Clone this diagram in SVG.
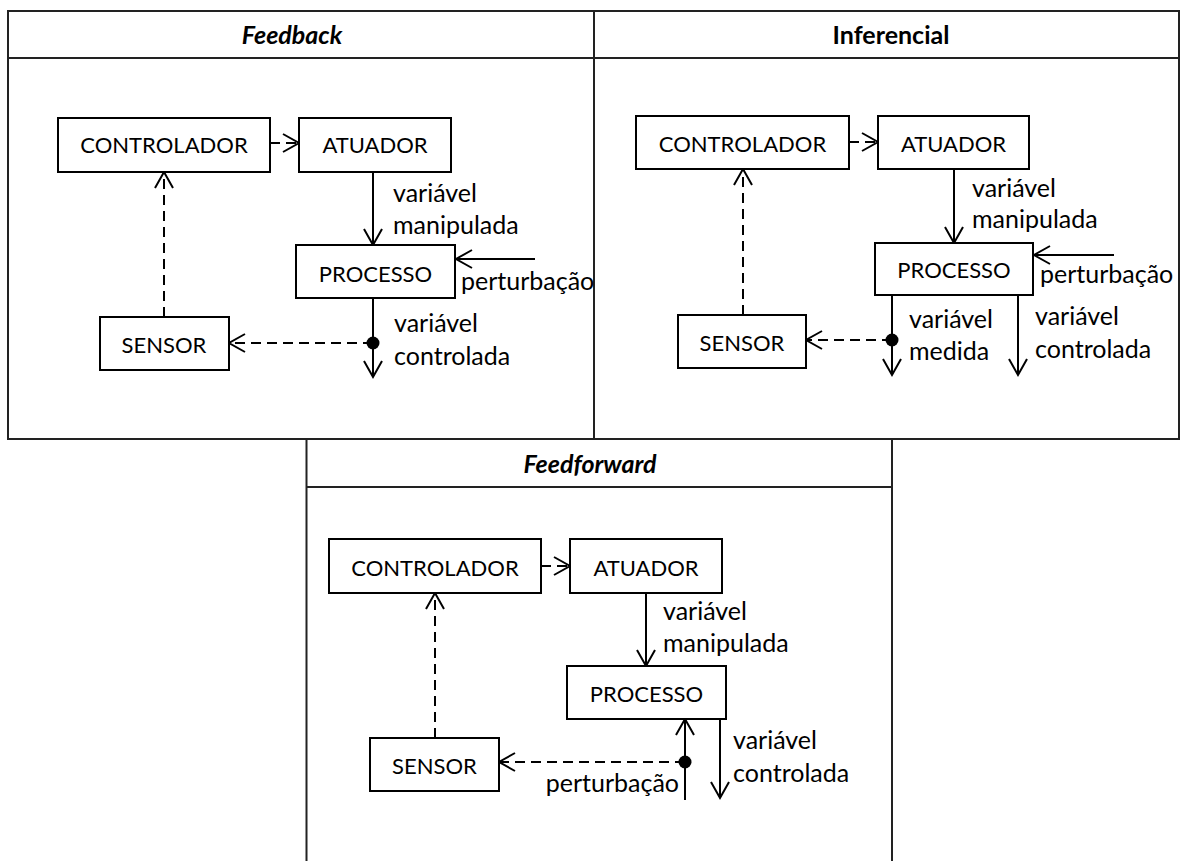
<svg xmlns="http://www.w3.org/2000/svg" width="1181" height="861" viewBox="0 0 1181 861">
<style>
.frame{stroke:#222;stroke-width:2;fill:none}
.box{fill:#fff;stroke:#000;stroke-width:2}
.t{font-family:Lato,"Open Sans","Liberation Sans",sans-serif;font-size:22px;fill:#000}
.lb{font-size:25px}
.c{text-anchor:middle}
.title{font-family:Lato,"Open Sans","Liberation Sans",sans-serif;font-size:25px;font-weight:bold;text-anchor:middle;fill:#000}
.it{font-style:italic}
.ln{stroke:#000;stroke-width:2;fill:none;marker-end:url(#ah)}
.dash{stroke-dasharray:10 6}
.dot{fill:#000}
</style>
<defs>
<marker id="ah" viewBox="-20 -12 24 24" refX="0" refY="0" markerWidth="24" markerHeight="24" markerUnits="userSpaceOnUse" orient="auto">
<path d="M-16,-9 L0,0 L-16,9" fill="none" stroke="#000" stroke-width="2"/>
</marker>
</defs>
<rect width="1181" height="861" fill="#fff"/>
<g id="frames">
<path class="frame" d="M8,11 H1179 V439 H8 Z M8,58 H1179 M594,11 V439 M306.5,439 V861 M892,439 V861 M306.5,487 H892"/>
<text class="title it" x="292" y="44">Feedback</text>
<text class="title" x="891" y="44">Inferencial</text>
<text class="title it" x="590" y="473">Feedforward</text>
</g>
<g id="connectors">
<line class="ln dash" x1="270" y1="143" x2="299" y2="143"/>
<line class="ln" x1="373" y1="172" x2="373" y2="245"/>
<line class="ln" x1="535" y1="259" x2="456" y2="259"/>
<line class="ln" x1="373" y1="298" x2="373" y2="377"/>
<circle class="dot" cx="373" cy="343" r="6.5"/>
<line class="ln dash" x1="373" y1="343" x2="229" y2="343"/>
<line class="ln dash" x1="164" y1="317" x2="164" y2="172"/>

<line class="ln dash" x1="849" y1="142" x2="878" y2="142"/>
<line class="ln" x1="954" y1="169" x2="954" y2="243"/>
<line class="ln" x1="1114" y1="255" x2="1034" y2="255"/>
<line class="ln" x1="892" y1="295" x2="892" y2="375"/>
<circle class="dot" cx="892" cy="340" r="6.5"/>
<line class="ln dash" x1="892" y1="340" x2="806" y2="340"/>
<line class="ln" x1="1018" y1="295" x2="1018" y2="375"/>
<line class="ln dash" x1="743" y1="315" x2="743" y2="169"/>

<line class="ln dash" x1="541" y1="566" x2="570" y2="566"/>
<line class="ln" x1="646" y1="593" x2="646" y2="666"/>
<line class="ln" x1="685" y1="800" x2="685" y2="719"/>
<circle class="dot" cx="685" cy="762" r="6.5"/>
<line class="ln dash" x1="685" y1="762" x2="499" y2="762"/>
<line class="ln" x1="720" y1="719" x2="720" y2="798"/>
<line class="ln dash" x1="435" y1="738" x2="435" y2="593"/>
</g>
<g id="labels">
<text class="t lb" x="393" y="202">variável</text>
<text class="t lb" x="393" y="234">manipulada</text>
<text class="t lb" x="461" y="290">perturbação</text>
<text class="t lb" x="394" y="332">variável</text>
<text class="t lb" x="394" y="365">controlada</text>

<text class="t lb" x="972" y="197">variável</text>
<text class="t lb" x="972" y="228">manipulada</text>
<text class="t lb" x="1040" y="283">perturbação</text>
<text class="t lb" x="909" y="328">variável</text>
<text class="t lb" x="909" y="360">medida</text>
<text class="t lb" x="1035" y="325">variável</text>
<text class="t lb" x="1035" y="358">controlada</text>

<text class="t lb" x="663" y="620">variável</text>
<text class="t lb" x="663" y="652">manipulada</text>
<text class="t lb" x="679" y="792" text-anchor="end">perturbação</text>
<text class="t lb" x="733" y="749">variável</text>
<text class="t lb" x="733" y="782">controlada</text>
</g>
<g id="fb-controlador"><rect class="box" x="58" y="118" width="212" height="54"/><text class="t c" x="164" y="153">CONTROLADOR</text></g>
<g id="fb-atuador"><rect class="box" x="299" y="118" width="152" height="54"/><text class="t c" x="375" y="153">ATUADOR</text></g>
<g id="fb-processo"><rect class="box" x="296" y="245" width="159" height="53"/><text class="t c" x="375.5" y="282">PROCESSO</text></g>
<g id="fb-sensor"><rect class="box" x="100" y="317" width="129" height="53"/><text class="t c" x="164" y="353">SENSOR</text></g>

<g id="inf-controlador"><rect class="box" x="636" y="116" width="213" height="53"/><text class="t c" x="742.5" y="152">CONTROLADOR</text></g>
<g id="inf-atuador"><rect class="box" x="878" y="116" width="151" height="53"/><text class="t c" x="953.5" y="152">ATUADOR</text></g>
<g id="inf-processo"><rect class="box" x="875" y="243" width="158" height="52"/><text class="t c" x="954" y="278">PROCESSO</text></g>
<g id="inf-sensor"><rect class="box" x="678" y="315" width="128" height="53"/><text class="t c" x="742" y="351">SENSOR</text></g>

<g id="ff-controlador"><rect class="box" x="329" y="539" width="212" height="54"/><text class="t c" x="435" y="576">CONTROLADOR</text></g>
<g id="ff-atuador"><rect class="box" x="570" y="539" width="152" height="54"/><text class="t c" x="646" y="576">ATUADOR</text></g>
<g id="ff-processo"><rect class="box" x="567" y="666" width="159" height="53"/><text class="t c" x="646.5" y="702">PROCESSO</text></g>
<g id="ff-sensor"><rect class="box" x="370" y="738" width="129" height="53"/><text class="t c" x="434.5" y="774">SENSOR</text></g>
</svg>
